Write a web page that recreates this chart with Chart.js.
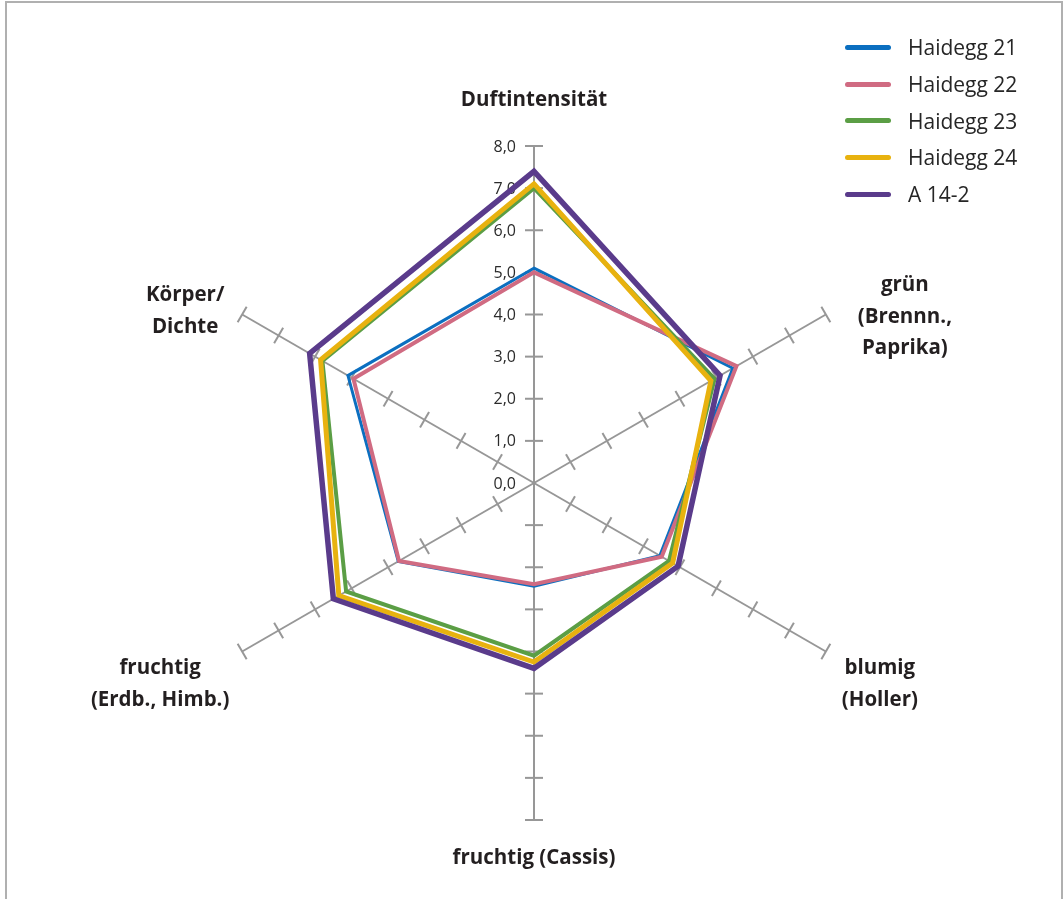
<!DOCTYPE html>
<html>
<head>
<meta charset="utf-8">
<script src="https://cdn.jsdelivr.net/npm/chart.js@4.4.1/dist/chart.umd.min.js"></script>
<style>
html,body{margin:0;padding:0;background:#fff;}
#wrap{position:relative;width:1063px;height:899px;overflow:hidden;background:#fff;}
#frame{position:absolute;left:5px;top:1px;width:1058px;height:980px;box-sizing:border-box;border:2px solid #b0b0b0;border-bottom:none;}
#c{position:absolute;left:0;top:0;}
#legend{position:absolute;left:845px;top:29px;font-family:"Open Sans",sans-serif;font-size:21px;color:#262626;}
.item{display:flex;align-items:center;height:36.7px;white-space:nowrap;}
.sw{width:46px;height:5px;border-radius:3px;margin-right:17px;flex:none;}
</style>
</head>
<body>
<div id="wrap">
  <div id="frame"></div>
  <canvas id="c" width="1063" height="899"></canvas>
  <div id="legend"></div>
</div>
<script>
// ---- data ----
const categories = [
  ['Duftintensität'],
  ['grün', '(Brennn.,', 'Paprika)'],
  ['blumig', '(Holler)'],
  ['fruchtig (Cassis)'],
  ['fruchtig', '(Erdb., Himb.)'],
  ['Körper/', 'Dichte']
];
const seriesNames = ['Haidegg 21', 'Haidegg 22', 'Haidegg 23', 'Haidegg 24', 'A 14-2'];
const haidegg21 = [5.1, 5.45, 3.45, 2.45, 3.72, 5.1];
const haidegg22 = [5.0, 5.55, 3.5, 2.4, 3.7, 4.95];
const haidegg23 = [7.0, 4.95, 3.7, 4.1, 5.15, 5.8];
const haidegg24 = [7.1, 4.85, 3.8, 4.25, 5.35, 5.85];
const a142 = [7.4, 5.1, 3.95, 4.4, 5.5, 6.15];
const tickValues = [0, 1, 2, 3, 4, 5, 6, 7, 8];
const tickLabels = ['0,0', '1,0', '2,0', '3,0', '4,0', '5,0', '6,0', '7,0', '8,0'];

// ---- styles ----
const seriesData = [haidegg21, haidegg22, haidegg23, haidegg24, a142];
const seriesColors = ['#0b6fc0', '#d06b82', '#5b9e45', '#e8b20f', '#5a3b8b'];
const seriesWidths = [3, 4, 4, 5, 5.5];
const axisColor = '#979797';
const labelOffsets = [[0, -46], [79, 2.5], [54, 32.5], [0, 38], [-82, 32.5], [-57, -3.5]];
const labelLineHeight = 31.5;

// legend (HTML, built from the series arrays)
const legendEl = document.getElementById('legend');
seriesNames.forEach((n, i) => {
  const it = document.createElement('div');
  it.className = 'item';
  const sw = document.createElement('span');
  sw.className = 'sw';
  sw.style.background = seriesColors[i];
  const tx = document.createElement('span');
  tx.textContent = n;
  it.appendChild(sw); it.appendChild(tx);
  legendEl.appendChild(it);
});

const decor = {
  id: 'decor',
  beforeDatasetsDraw(chart) {
    const s = chart.scales.r;
    const ctx = chart.ctx;
    ctx.save();
    // cross ticks on every axis
    ctx.strokeStyle = axisColor;
    ctx.lineWidth = 2;
    for (let i = 0; i < categories.length; i++) {
      for (let k = 1; k < tickValues.length; k++) {
        const d = s.getDistanceFromCenterForValue(tickValues[k]);
        const p = s.getPointPosition(i, d);
        const px = -Math.sin(p.angle), py = Math.cos(p.angle);
        ctx.beginPath();
        ctx.moveTo(p.x - px * 9, p.y - py * 9);
        ctx.lineTo(p.x + px * 9, p.y + py * 9);
        ctx.stroke();
      }
    }
    // tick labels left of the first axis
    ctx.fillStyle = '#2b2b2b';
    ctx.font = '16px "Open Sans"';
    ctx.textAlign = 'right';
    ctx.textBaseline = 'middle';
    tickValues.forEach((v, k) => {
      const d = s.getDistanceFromCenterForValue(v);
      const p = s.getPointPosition(0, d);
      ctx.fillText(tickLabels[k], p.x - 18, p.y + 1);
    });
    ctx.restore();
  },
  afterDraw(chart) {
    const s = chart.scales.r;
    const ctx = chart.ctx;
    ctx.save();
    ctx.fillStyle = '#231f20';
    ctx.font = 'bold 20.5px "Open Sans"';
    ctx.textAlign = 'center';
    ctx.textBaseline = 'middle';
    categories.forEach((lines, i) => {
      const p = s.getPointPosition(i, s.drawingArea);
      const cx = p.x + labelOffsets[i][0];
      const cy = p.y + labelOffsets[i][1];
      lines.forEach((t, k) => {
        ctx.fillText(t, cx, cy + (k - (lines.length - 1) / 2) * labelLineHeight);
      });
    });
    ctx.restore();
  }
};

new Chart(document.getElementById('c'), {
  type: 'radar',
  data: {
    labels: categories,
    datasets: seriesNames.map((n, i) => ({
      label: n,
      data: seriesData[i],
      borderColor: seriesColors[i],
      backgroundColor: seriesColors[i],
      borderWidth: seriesWidths[i],
      borderJoinStyle: 'miter',
      fill: false,
      pointRadius: 0,
      pointHoverRadius: 0,
      tension: 0,
      order: seriesNames.length - i
    }))
  },
  options: {
    responsive: false,
    animation: false,
    devicePixelRatio: 1,
    layout: { padding: { top: 146, bottom: 79, left: 5, right: 0 } },
    plugins: { legend: { display: false }, tooltip: { enabled: false } },
    scales: {
      r: {
        min: 0,
        max: 8,
        ticks: { display: false, stepSize: 1 },
        grid: { display: false },
        angleLines: { display: true, color: axisColor, lineWidth: 2 },
        pointLabels: { display: false }
      }
    }
  },
  plugins: [decor]
});
</script>
</body>
</html>
